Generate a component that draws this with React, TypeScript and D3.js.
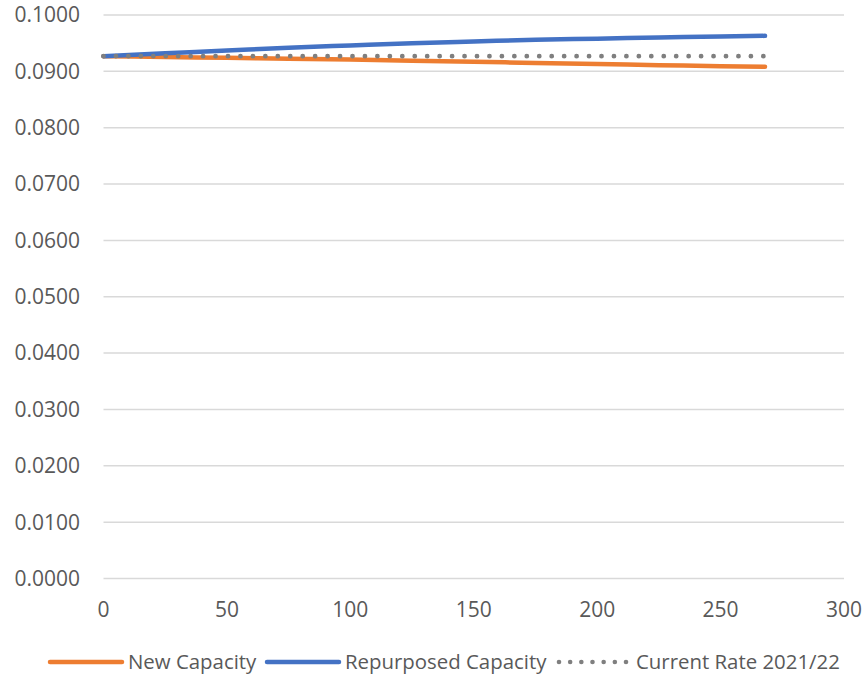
import React, { useEffect, useRef } from "react";
import * as d3 from "d3";

const xTicks = [0, 50, 100, 150, 200, 250, 300];
const yTicks = [0, 0.01, 0.02, 0.03, 0.04, 0.05, 0.06, 0.07, 0.08, 0.09, 0.1];
const xs = [0, 25, 50, 75, 100, 125, 150, 175, 200, 225, 250, 268];
const newCapacity = [0.0927, 0.09255, 0.0924, 0.09225, 0.0921, 0.0919, 0.0917, 0.0915, 0.0913, 0.0911, 0.0909, 0.0908];
const repurposedCapacity = [0.0927, 0.0932, 0.0937, 0.0942, 0.0946, 0.095, 0.0953, 0.0956, 0.0958, 0.096, 0.0962, 0.0963];
const currentRate = [0.0927, 0.0927, 0.0927, 0.0927, 0.0927, 0.0927, 0.0927, 0.0927, 0.0927, 0.0927, 0.0927, 0.0927];

const W = 867;
const H = 675;
const FONT = "'Open Sans', sans-serif";
const TXT = "#595959";
const FS = 21;

export default function App() {
  const ref = useRef<SVGSVGElement>(null);
  useEffect(() => {
    const svg = d3.select(ref.current);
    svg.selectAll("*").remove();
    const x = d3.scaleLinear().domain([0, 300]).range([103.5, 844]);
    const y = d3.scaleLinear().domain([0, 0.1]).range([578.5, 15]);

    const g = svg.append("g");
    g.selectAll("line.grid")
      .data(yTicks)
      .join("line")
      .attr("x1", x(0))
      .attr("x2", x(300))
      .attr("y1", (d) => y(d))
      .attr("y2", (d) => y(d))
      .attr("stroke", "#d9d9d9")
      .attr("stroke-width", 1.5);

    g.selectAll("text.yt")
      .data(yTicks)
      .join("text")
      .attr("x", 80)
      .attr("y", (d) => y(d))
      .attr("dy", "0.35em")
      .attr("text-anchor", "end")
      .attr("font-family", FONT)
      .attr("font-size", FS)
      .attr("fill", TXT)
      .text((d) => d3.format(".4f")(d));

    g.selectAll("text.xt")
      .data(xTicks)
      .join("text")
      .attr("x", (d) => x(d))
      .attr("y", 610)
      .attr("dy", "0.35em")
      .attr("text-anchor", "middle")
      .attr("font-family", FONT)
      .attr("font-size", FS)
      .attr("fill", TXT)
      .text((d) => String(d));

    const mk = (vals: number[]) =>
      d3
        .line<number>()
        .x((_, i) => x(xs[i]))
        .y((d) => y(d))
        .curve(d3.curveMonotoneX)(vals);

    g.append("path")
      .attr("d", mk(newCapacity))
      .attr("fill", "none")
      .attr("stroke", "#ED7D31")
      .attr("stroke-width", 4.5)
      .attr("stroke-linecap", "round");
    g.append("path")
      .attr("d", mk(repurposedCapacity))
      .attr("fill", "none")
      .attr("stroke", "#4472C4")
      .attr("stroke-width", 4.5)
      .attr("stroke-linecap", "round");
    g.append("path")
      .attr("d", mk(currentRate))
      .attr("fill", "none")
      .attr("stroke", "#7F7F7F")
      .attr("stroke-width", 4.8)
      .attr("stroke-linecap", "round")
      .attr("stroke-dasharray", "0 12.45");

    const legend = [
      { name: "New Capacity", color: "#ED7D31", x0: 50, x1: 122, tx: 128, dots: false },
      { name: "Repurposed Capacity", color: "#4472C4", x0: 267, x1: 339, tx: 345, dots: false },
      { name: "Current Rate 2021/22", color: "#7F7F7F", x0: 559, x1: 626, tx: 636, dots: true },
    ];
    const ly = 662;
    legend.forEach((l) => {
      if (l.dots) {
        const n = 7;
        g.selectAll(null)
          .data(d3.range(n))
          .join("circle")
          .attr("cx", (i) => l.x0 + ((l.x1 - l.x0) * i) / (n - 1))
          .attr("cy", ly)
          .attr("r", 2.3)
          .attr("fill", l.color);
      } else {
        g.append("line")
          .attr("x1", l.x0)
          .attr("x2", l.x1)
          .attr("y1", ly)
          .attr("y2", ly)
          .attr("stroke", l.color)
          .attr("stroke-width", 4.5)
          .attr("stroke-linecap", "round");
      }
      g.append("text")
        .attr("x", l.tx)
        .attr("y", ly)
        .attr("dy", "0.35em")
        .attr("font-family", FONT)
        .attr("font-size", 20.4)
        .attr("fill", TXT)
        .text(l.name);
    });
  }, []);
  return (
    <svg
      ref={ref}
      width={W}
      height={H}
      style={{ position: "absolute", left: 0, top: 0, background: "#fff" }}
    />
  );
}
